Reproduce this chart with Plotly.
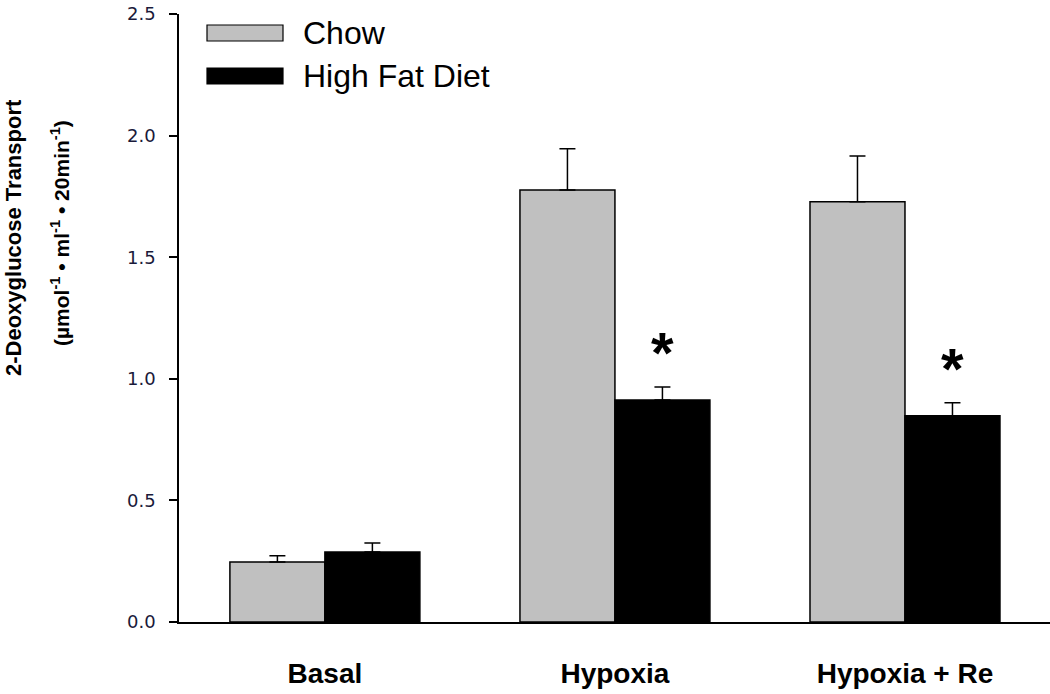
import plotly.graph_objects as go

categories = ["Basal", "Hypoxia", "Hypoxia + Re"]
chow = [0.247, 1.776, 1.728]
chow_err = [0.025, 0.170, 0.188]
hfd = [0.288, 0.913, 0.848]
hfd_err = [0.037, 0.053, 0.054]
star_groups = [1, 2]
star_y = [1.127, 1.061]
yticks = [0.0, 0.5, 1.0, 1.5, 2.0, 2.5]

# screen -> plot-paper helpers (plot area: x 179..1050, y 14..622 on screen)
def px(sx):
    return (sx - 179) / 871

def py(sy):
    return 1 - (sy - 14) / 608

fig = go.Figure()
fig.add_trace(go.Bar(
    x=categories, y=chow, name="Chow",
    marker=dict(color="#C0C0C0", line=dict(color="black", width=1.5)),
    error_y=dict(type="data", array=chow_err, arrayminus=[0]*3, symmetric=False,
                 color="black", thickness=1.5, width=8),
    showlegend=False,
))
fig.add_trace(go.Bar(
    x=categories, y=hfd, name="High Fat Diet",
    marker=dict(color="black", line=dict(color="black", width=1.5)),
    error_y=dict(type="data", array=hfd_err, arrayminus=[0]*3, symmetric=False,
                 color="black", thickness=1.5, width=8),
    showlegend=False,
))

fig.update_layout(
    width=1050, height=694,
    margin=dict(l=179, r=0, t=14, b=72, autoexpand=False),
    paper_bgcolor="white", plot_bgcolor="white",
    barmode="group", bargap=0.345, bargroupgap=0,
    font=dict(family="Arial, Liberation Sans, sans-serif", color="black"),
)
fig.update_xaxes(
    range=[-0.503, 2.5], showline=True, linecolor="black", linewidth=1.5,
    ticks="", showgrid=False, zeroline=False,
    tickfont=dict(size=28, family="Arial, Liberation Sans", color="black", weight="bold"),
    ticklabelstandoff=26,
)
fig.update_yaxes(
    range=[0, 2.5], showline=True, linecolor="black", linewidth=1.5,
    ticks="outside", ticklen=8, tickwidth=1.5, tickcolor="black",
    tickvals=yticks, ticktext=[f"{v:.1f}" for v in yticks],
    tickfont=dict(size=18, family="DejaVu Sans", color="#1a1a3a"),
    ticklabelstandoff=10, ticklabeloverflow="allow",
    showgrid=False, zeroline=False,
)

# y-axis title (two lines)
fig.add_annotation(
    xref="paper", yref="paper", x=px(13), y=py(238), xanchor="center", yanchor="middle",
    text="<b>2-Deoxyglucose Transport</b>",
    textangle=-90, showarrow=False, font=dict(size=22, color="black"),
)
fig.add_annotation(
    xref="paper", yref="paper", x=px(60), y=py(233), xanchor="center", yanchor="middle",
    text="<b>(µmol<sup>-1</sup> • ml<sup>-1</sup> • 20min<sup>-1</sup>)</b>",
    textangle=-90, showarrow=False, font=dict(size=21, color="black"),
)

# asterisks above HFD bars
for g, yv in zip(star_groups, star_y):
    fig.add_annotation(
        x=g + 0.164, y=yv, xref="x", yref="y", text="<b>*</b>", showarrow=False,
        yshift=-5, font=dict(size=58, color="black"),
    )

# legend drawn manually (wide swatches)
legend_items = [("Chow", "#C0C0C0", 33), ("High Fat Diet", "black", 76)]
for label, col, ypx in legend_items:
    fig.add_shape(
        type="rect", xref="paper", yref="paper",
        x0=px(207), x1=px(283), y0=py(ypx + 8), y1=py(ypx - 8),
        fillcolor=col, line=dict(color="black", width=1.2),
    )
    fig.add_annotation(
        xref="paper", yref="paper", x=px(301), y=py(ypx),
        xanchor="left", yanchor="middle", text=label, showarrow=False,
        font=dict(size=32, color="black"),
    )

fig.write_html("out.html", config={"displayModeBar": False},
               post_script="document.body.style.margin='0';")
